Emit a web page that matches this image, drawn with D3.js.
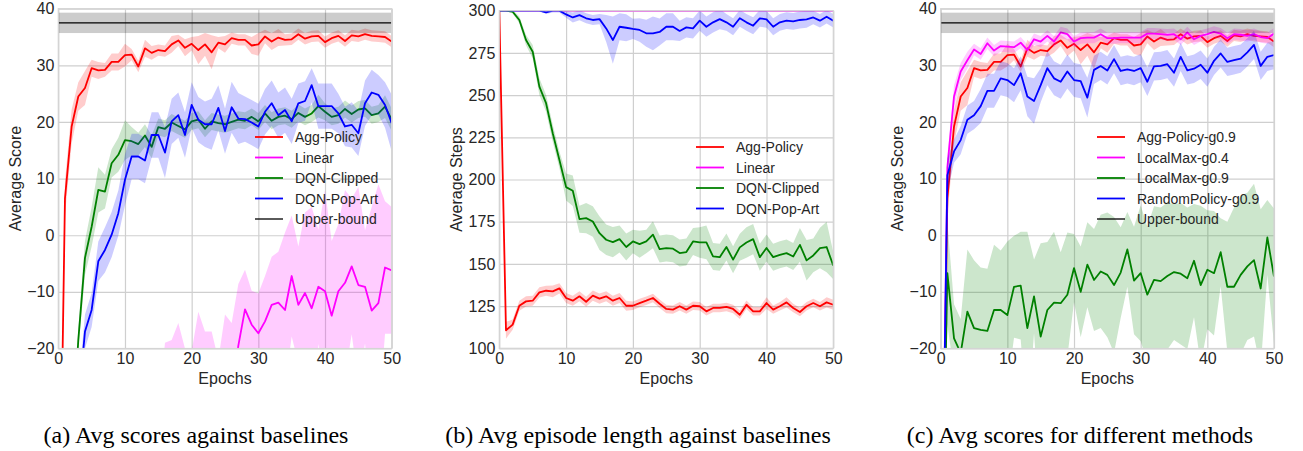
<!doctype html>
<html>

<head>
	<meta charset="utf-8">
	<style>
		body { margin: 0; background: #fff; }
	</style>
</head>

<body>
	<div class="figure"></div>

	<script src="https://cdn.jsdelivr.net/npm/d3@7/dist/d3.min.js"></script>
	<script>
		// x categories
		const epochs = [0, 1, 2, 3, 4, 5, 6, 7, 8, 9, 10, 11, 12, 13, 14, 15, 16, 17, 18, 19, 20,
			21, 22, 23, 24, 25, 26, 27, 28, 29, 30, 31, 32, 33, 34, 35, 36, 37, 38, 39, 40,
			41, 42, 43, 44, 45, 46, 47, 48, 49, 50];
		const xTicks = [0, 10, 20, 30, 40, 50];
		const scoreTicks = [-20, -10, 0, 10, 20, 30, 40];
		const stepsTicks = [100, 125, 150, 175, 200, 225, 250, 275, 300];

		// (a) scores
		const aggScore = [-70, 6.5, 19.2, 24.5, 26, 29.5, 29.1, 29.2, 30.6, 30.6, 31.8, 31.9, 29.8, 33, 32.2, 32.7, 32.5, 33.7, 34.4, 33.1,
			33.8, 32.7, 33.7, 32.3, 34, 33.7, 34.8, 34.5, 34.5, 33.5, 33.7, 35.1, 34.2, 34.9, 34.5, 34.6, 35.5, 34.7, 35.1, 35.2,
			34.1, 34.8, 35.2, 34.3, 35.3, 35.1, 35.5, 35.2, 35.1, 35, 34.2];
		const aggScoreSd = [3, 3, 3, 2.5, 3, 1.5, 1.5, 1.2, 1.5, 1.5, 2, 1, 1, 1.5, 1.2, 1, 1, 1.5, 1, 1.5,
			1.2, 2.5, 2, 3, 1, 1.5, 1, 1, 1, 1.5, 2, 1.2, 1.5, 1.5, 1, 1, 1, 1, 1, 1,
			1, 1, 1, 1, 1, 1, 1, 1, 1, 1, 1];
		const linearScore = [-60, -55, -50, -48, -46, -45, -44, -43, -42, -41, -40, -40, -39, -38, -37, -36, -34, -33, -31, -32,
			-33, -29, -30, -30, -32, -28, -28, -19.5, -13.1, -15.8, -17.3, -15.2, -12.3, -11.9, -13.2, -7.2, -12.3, -10.2, -12.9, -9.1,
			-9.9, -14.2, -9.9, -8.4, -5.5, -8.8, -9.1, -13.3, -12, -5.7, -6.2];
		const linearScoreSd = [5, 5, 5, 5, 5, 5, 5, 5, 5, 5, 5, 5, 5, 5, 5, 5, 15, 14.5, 15.5, 12,
			12.5, 15.5, 13, 13, 10, 14, 12.5, 10.9, 7, 6, 7, 8, 8.5, 9, 13.7, 10.7, 10.3, 14.2, 17.9, 10.1,
			17.9, 13.2, 11.9, 16.4, 12, 17.3, 10, 18.3, 21, 11.7, 11.2];
		const clippedScore = [-70, -55, -38, -18.5, -4, 1.5, 8, 7.7, 12.7, 14.2, 16.8, 16.6, 16.1, 17.6, 15.6, 19.1, 18.8, 19.9, 19.3, 18.7,
			20.1, 20.4, 18.8, 20.1, 19.8, 19.6, 20, 20.4, 20.2, 20.9, 20.1, 21.5, 20.2, 20.9, 21.1, 20.5, 21.6, 20.9, 21.5, 22.8,
			21.8, 20.9, 21.2, 22.3, 21.4, 22.2, 22.4, 21.2, 21.5, 22.7, 20.4];
		const clippedScoreSd = [2, 2, 2, 2, 3, 3.5, 4, 3, 2.5, 3, 3.5, 2.5, 2, 2, 2, 1.5, 1.5, 1.5, 1.5, 1.5,
			1.5, 1.5, 1.5, 1.5, 1.5, 1.5, 1.5, 1.5, 1.5, 1.5, 1.5, 1.5, 1.5, 1.5, 1.5, 1.5, 1.5, 1.5, 1.5, 2,
			1.5, 1.5, 1.5, 1.5, 1.5, 1.5, 1.5, 1.5, 1.5, 2, 2];
		const popartScore = [-70, -60, -45, -30, -17, -13.2, -4.6, -2.6, 0.1, 3.9, 9.8, 13.9, 13.9, 13.2, 17.7, 17.7, 14.6, 20.1, 21.2, 17.7,
			23, 20.4, 19.6, 19.6, 22.5, 18.4, 22.6, 20.6, 20.5, 19.9, 19.2, 21.8, 23.3, 21.2, 22.1, 20.1, 23.3, 23.7, 26.5, 22.8,
			22.8, 22.8, 21.5, 19.2, 19.5, 18, 23.3, 25.2, 24.8, 23, 19.8];
		const popartScoreSd = [3, 3, 3, 3, 3, 3, 3.5, 4, 4, 4, 4.5, 4, 4, 4, 4, 4, 4.5, 4, 4, 4,
			4, 4, 4, 4.5, 4, 4, 4.5, 4.5, 4, 4, 4, 4, 4, 4, 4, 4, 3.5, 3.5, 3, 4,
			4, 4, 3.5, 3.5, 4, 4, 4, 4, 3.5, 4, 5];
		const upperBound = 37.5;
		const upperBoundSd = 1.8;

		// (b) episode length
		const aggSteps = [300, 110.7, 114, 125.2, 127.8, 128.2, 133.1, 134.1, 133.7, 135.5, 129.8, 128.2, 130.8, 127.6, 131.2, 129.4, 130.8, 128.2, 129.8, 125.2,
			125.2, 126.8, 128.2, 129.8, 126.4, 123.3, 122.9, 124.9, 122.9, 125.2, 124.9, 121.9, 123.9, 123.9, 124.5, 123.3, 119.9, 125.8, 121.9, 121.9,
			126.8, 122.9, 124.9, 127.2, 123.9, 121.5, 124.9, 126.8, 124.9, 127.2, 125.8];
		const aggStepsSd = [0, 5, 3, 3, 3, 3, 3, 3, 3.5, 3, 3, 3, 3, 3, 3, 3, 3, 3, 3, 3,
			2.5, 2.5, 2.5, 2.5, 2.5, 2.5, 2.5, 2.5, 2.5, 2.5, 2.5, 2.5, 2.5, 2.5, 2.5, 2.5, 2.5, 2.5, 2.5, 2.5,
			3.5, 2.5, 2.5, 3, 2.5, 2.5, 2.5, 2.5, 2.5, 3, 3];
		const linearSteps = [300, 300, 300, 300, 300, 300, 300, 300, 300, 300, 300, 300, 300, 300, 300, 300, 300, 300, 300, 300,
			300, 300, 300, 300, 300, 300, 300, 300, 300, 300, 300, 300, 300, 300, 300, 300, 300, 300, 300, 300,
			300, 300, 300, 300, 300, 300, 300, 300, 300, 300, 300];
		const clippedSteps = [300, 300, 299.4, 294.5, 282.6, 275.7, 255, 245.2, 227.4, 211.6, 195.5, 193.3, 176.5, 177.1, 175.1, 168.2, 164.3, 162.9, 164.7, 160,
			163.3, 161.7, 163.3, 167.3, 158.8, 159.4, 159, 156.4, 157, 163.3, 162.7, 162.7, 154.4, 154, 160, 152.5, 159.8, 162.7, 164.7, 154,
			159.4, 154, 155.4, 156.4, 154.4, 161.3, 152.1, 155, 159.4, 160, 148.9];
		const clippedStepsSd = [0, 0, 1, 2, 3, 4, 5, 5, 5, 5, 8, 9, 8, 9, 9, 10, 9, 9, 8, 8,
			7, 8, 7, 8, 8, 8, 8, 8, 8, 8, 9, 10, 8, 8, 8, 8, 8, 9, 9, 8,
			8, 8, 8, 8, 8, 10, 12, 10, 12, 15, 8];
		const popartSteps = [300, 300, 300, 300, 300, 300, 300, 299, 300, 300, 297.8, 296, 297.4, 295.5, 294.5, 295, 289.5, 282.6, 290.5, 289.9,
			289.2, 288.6, 286.6, 286.6, 287.4, 290.5, 290.5, 288, 290.1, 289.5, 294.1, 290.5, 293.1, 295, 293.1, 290.5, 295.5, 293.1, 291.1, 295.5,
			294.9, 290.5, 293.1, 294.1, 293.7, 294.5, 294.9, 296, 294.1, 296.4, 294.1];
		const popartStepsSd = [0, 0, 0, 0, 0, 0, 0, 1, 1, 1, 2, 3, 3, 3, 3, 3, 8, 14, 8, 8,
			6, 7, 8, 10, 8, 8, 8, 6, 6, 6, 6, 6, 6, 6, 5, 5, 5, 5, 5, 5,
			5, 5, 5, 5, 5, 5, 5, 4, 4, 4, 4];

		// (c) scores of different methods
		const lm04Score = [-70, 12, 24.5, 28.9, 30.9, 32.8, 32, 33.9, 32.6, 33.4, 33.3, 33.2, 34, 32.7, 34.6, 34.2, 35.2, 34.2, 35.8, 35.5,
			34.2, 34.8, 34.9, 34.9, 35.5, 34.8, 34.8, 34.9, 34.9, 34.9, 34.9, 35.6, 35.6, 35.5, 35.4, 35.5, 34.6, 35.8, 34.6, 35.2,
			35.5, 35.9, 35.6, 34.8, 35.5, 35.4, 35.2, 35.5, 35, 34.8, 35.6];
		const lm04Sd = [2, 2, 2, 1.5, 1.5, 1, 1, 1, 1, 1, 1, 1, 1, 1, 1, 1, 1, 1, 1, 1,
			1, 1, 1, 1, 1, 1, 1, 1, 1, 1, 1, 1, 1, 1, 1, 1, 1, 1, 1, 1,
			1, 1, 1, 1, 1, 1, 1, 1, 1, 1, 1];
		const lm09Score = [-70, -6.7, -18.2, -20.8, -13.5, -16.4, -16.7, -16.9, -13.2, -13.2, -14.1, -9.1, -8.9, -16.4, -10.8, -17.9, -13.2, -11.9, -12, -10.5,
			-5.8, -10, -5.2, -7.9, -6.4, -7, -8.8, -6.6, -2.5, -8, -6.7, -10.5, -7.9, -8.1, -7.2, -6.5, -6.8, -7.6, -4.5, -8.8,
			-6.1, -6.7, -3, -9.1, -9.1, -7, -5.5, -4.4, -9.4, -0.4, -7.3];
		const lm09Sd = [5, 9, 6, 6, 11, 12, 11, 11, 11.5, 10.5, 13, 9, 9.5, 17, 6.5, 16.5, 12, 12.5, 9, 11,
			6, 8, 7.5, 9, 10, 11, 12, 8, 6.6, 9.5, 12, 12, 13, 13, 13, 12, 12.5, 12.5, 10, 14,
			10.5, 11, 6, 11.5, 14, 14, 13, 13.5, 14, 6.6, 12];
		const randScore = [-70, 10.6, 14.8, 16.8, 20.4, 21.2, 22.8, 25.5, 25.5, 27.7, 27.4, 26.5, 28.6, 24.5, 23.7, 26.5, 29.5, 27.7, 27.1, 28.9,
			27.4, 27.2, 24.3, 29.2, 29.9, 29.1, 31.1, 29, 29.3, 29, 29.5, 27.1, 29.8, 29.9, 30.2, 28.7, 31.5, 29.1, 29.4, 30.1,
			28.7, 30.8, 32.1, 30.6, 30.9, 31.2, 32.3, 33.6, 29.9, 31.5, 31.8];
		const randSd = [3, 3, 2, 2.5, 2.5, 2.5, 3, 3, 3, 3, 3, 3, 3, 3.5, 4, 3, 3, 3, 3, 3,
			3, 3, 3.5, 2.5, 2.5, 2.5, 2.5, 2.5, 2.5, 2.5, 2.5, 2.5, 2.5, 2.5, 2.5, 2.5, 2.5, 2.5, 2.5, 2.5,
			2.5, 2.5, 2.5, 2.5, 2.5, 2.5, 2.5, 2.5, 2.5, 2.5, 2.5];

		const RED = "#ff0000", MAGENTA = "#ff00ff", GREEN = "#008000", BLUE = "#0000ff";
		const SANS = "'Liberation Sans', Arial, sans-serif";
		const SERIF = "'Liberation Serif', 'Times New Roman', serif";

		let svg = d3.select(".figure")
			.append("svg")
			.attr("width", 1303)
			.attr("height", 451);

		svg.append("rect").attr("width", 1303).attr("height", 451).attr("fill", "#fff");

		function fmt(d) {
			return d < 0 ? "\u2212" + Math.abs(d) : String(d);
		}

		function drawPanel(p, idx) {
			let x = d3.scaleLinear().domain([0, 50]).range([p.left, p.right]);
			let y = d3.scaleLinear().domain(p.yDomain).range([p.bottom, p.top]);
			let g = svg.append("g");

			// grid
			g.append("g")
				.attr("transform", `translate(0,${p.bottom})`)
				.call(d3.axisBottom(x).tickValues(xTicks).tickSize(-(p.bottom - p.top)).tickFormat(""))
				.call(a => a.select(".domain").remove())
				.call(a => a.selectAll("line").attr("stroke", "#cfcfcf").attr("stroke-width", 1.2));
			g.append("g")
				.attr("transform", `translate(${p.left},0)`)
				.call(d3.axisLeft(y).tickValues(p.yTicks).tickSize(-(p.right - p.left)).tickFormat(""))
				.call(a => a.select(".domain").remove())
				.call(a => a.selectAll("line").attr("stroke", "#cfcfcf").attr("stroke-width", 1.2));

			svg.append("clipPath").attr("id", "clip" + idx)
				.append("rect")
				.attr("x", p.left).attr("y", p.top)
				.attr("width", p.right - p.left).attr("height", p.bottom - p.top);

			let plot = g.append("g").attr("clip-path", `url(#clip${idx})`);

			let area = d3.area()
				.x((d, i) => x(epochs[i]));
			let line = d3.line()
				.x((d, i) => x(epochs[i]))
				.y(d => y(d));

			p.series.forEach(s => {
				if (s.sd) {
					plot.append("path")
						.datum(s.values)
						.attr("d", area.y0((d, i) => y(d - s.sd[i])).y1((d, i) => y(d + s.sd[i])))
						.attr("fill", s.color)
						.attr("fill-opacity", 0.2);
				}
				plot.append("path")
					.datum(s.values)
					.attr("d", line)
					.attr("fill", "none")
					.attr("stroke", s.color)
					.attr("stroke-width", 1.8)
					.attr("stroke-linejoin", "round");
			});

			if (p.upper) {
				plot.append("rect")
					.attr("x", p.left).attr("width", p.right - p.left)
					.attr("y", y(upperBound + upperBoundSd))
					.attr("height", y(upperBound - upperBoundSd) - y(upperBound + upperBoundSd))
					.attr("fill", "#000").attr("fill-opacity", 0.2);
				plot.append("line")
					.attr("x1", p.left).attr("x2", p.right)
					.attr("y1", y(upperBound)).attr("y2", y(upperBound))
					.attr("stroke", "#000").attr("stroke-width", 1.3);
			}

			// frame
			g.append("rect")
				.attr("x", p.left).attr("y", p.top)
				.attr("width", p.right - p.left).attr("height", p.bottom - p.top)
				.attr("fill", "none").attr("stroke", "#d4d4d4").attr("stroke-width", 1.2);

			// tick labels
			g.append("g")
				.attr("transform", `translate(0,${p.bottom})`)
				.call(d3.axisBottom(x).tickValues(xTicks).tickSize(0).tickPadding(4).tickFormat(fmt))
				.call(a => a.select(".domain").remove())
				.call(a => a.selectAll("text").style("font-size", "16px").style("font-family", SANS).attr("fill", "#262626"));
			g.append("g")
				.attr("transform", `translate(${p.left},0)`)
				.call(d3.axisLeft(y).tickValues(p.yTicks).tickSize(0).tickPadding(4).tickFormat(fmt))
				.call(a => a.select(".domain").remove())
				.call(a => a.selectAll("text").style("font-size", "16px").style("font-family", SANS).attr("fill", "#262626"));

			// axis titles
			g.append("text")
				.attr("x", (p.left + p.right) / 2).attr("y", 384)
				.attr("text-anchor", "middle")
				.style("font-size", "16px").style("font-family", SANS).attr("fill", "#262626")
				.text("Epochs");
			g.append("text")
				.attr("transform", `translate(${p.yLabelX},${(p.top + p.bottom) / 2}) rotate(-90)`)
				.attr("text-anchor", "middle")
				.attr("dominant-baseline", "central")
				.style("font-size", "16px").style("font-family", SANS).attr("fill", "#262626")
				.text(p.yLabel);

			// legend
			p.legend.forEach((l, i) => {
				let ly = p.legendY + i * 20.5;
				g.append("line")
					.attr("x1", p.legendX).attr("x2", p.legendX + 28)
					.attr("y1", ly).attr("y2", ly)
					.attr("stroke", l.color)
					.attr("stroke-width", l.color === "#000" ? 1.3 : 1.8);
				g.append("text")
					.attr("x", p.legendX + 40).attr("y", ly)
					.attr("dominant-baseline", "central")
					.style("font-size", "14px").style("font-family", SANS).attr("fill", "#262626")
					.text(l.label);
			});

			// caption
			svg.append("text")
				.attr("x", p.capX).attr("y", 443)
				.attr("text-anchor", "middle")
				.style("font-family", SERIF)
				.style("font-size", "24px").attr("fill", "#000")
				.text(p.caption);
		}

		const panels = [
			{
				left: 58.3, right: 391.7, top: 8.7, bottom: 348.5,
				yDomain: [-20, 40], yTicks: scoreTicks, yLabel: "Average Score", yLabelX: 15,
				upper: true,
				series: [
					{ values: aggScore, sd: aggScoreSd, color: RED },
					{ values: linearScore, sd: linearScoreSd, color: MAGENTA },
					{ values: clippedScore, sd: clippedScoreSd, color: GREEN },
					{ values: popartScore, sd: popartScoreSd, color: BLUE }
				],
				legendX: 255, legendY: 137,
				legend: [
					{ label: "Agg-Policy", color: RED },
					{ label: "Linear", color: MAGENTA },
					{ label: "DQN-Clipped", color: GREEN },
					{ label: "DQN-Pop-Art", color: BLUE },
					{ label: "Upper-bound", color: "#000" }
				],
				capX: 196, caption: "(a) Avg scores against baselines"
			},
			{
				left: 499.3, right: 833.3, top: 10.7, bottom: 348.3,
				yDomain: [100, 300], yTicks: stepsTicks, yLabel: "Average Steps", yLabelX: 456,
				upper: false,
				series: [
					{ values: aggSteps, sd: aggStepsSd, color: RED },
					{ values: linearSteps, sd: null, color: MAGENTA },
					{ values: clippedSteps, sd: clippedStepsSd, color: GREEN },
					{ values: popartSteps, sd: popartStepsSd, color: BLUE }
				],
				legendX: 696, legendY: 147,
				legend: [
					{ label: "Agg-Policy", color: RED },
					{ label: "Linear", color: MAGENTA },
					{ label: "DQN-Clipped", color: GREEN },
					{ label: "DQN-Pop-Art", color: BLUE }
				],
				capX: 638, caption: "(b) Avg episode length against baselines"
			},
			{
				left: 940.7, right: 1274, top: 8.7, bottom: 348.5,
				yDomain: [-20, 40], yTicks: scoreTicks, yLabel: "Average Score", yLabelX: 897,
				upper: true,
				series: [
					{ values: aggScore, sd: aggScoreSd, color: RED },
					{ values: lm04Score, sd: lm04Sd, color: MAGENTA },
					{ values: lm09Score, sd: lm09Sd, color: GREEN },
					{ values: randScore, sd: randSd, color: BLUE }
				],
				legendX: 1097, legendY: 137,
				legend: [
					{ label: "Agg-Policy-g0.9", color: RED },
					{ label: "LocalMax-g0.4", color: MAGENTA },
					{ label: "LocalMax-g0.9", color: GREEN },
					{ label: "RandomPolicy-g0.9", color: BLUE },
					{ label: "Upper-bound", color: "#000" }
				],
				capX: 1080, caption: "(c) Avg scores for different methods"
			}
		];

		panels.forEach((p, i) => drawPanel(p, i));
	</script>

</body>

</html>
